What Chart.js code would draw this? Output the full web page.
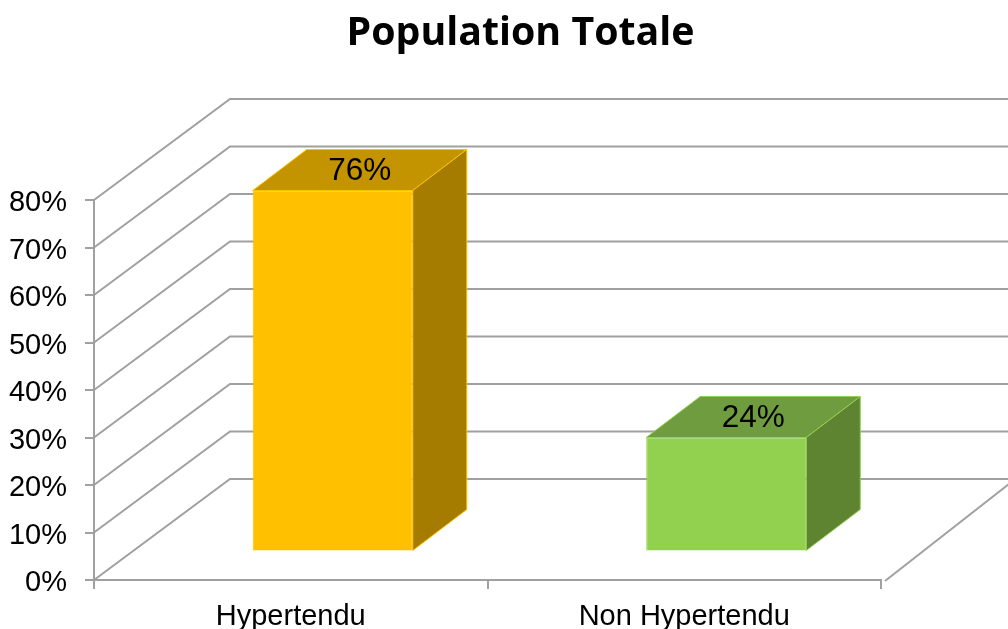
<!DOCTYPE html>
<html>
<head>
<meta charset="utf-8">
<style>html,body{margin:0;padding:0;background:#fff}canvas{display:block}</style>
<script src="https://cdn.jsdelivr.net/npm/chart.js@4"></script>
</head>
<body>
<canvas id="c" width="1008" height="629"></canvas>
<script>
const categories = ['Hypertendu', 'Non Hypertendu'];
const values = [76, 24];
const titleText = 'Population Totale';

const frontColors = ['#FFC000', '#92D050'];
const topColors = ['#C49400', '#6F9C3E'];
const sideColors = ['#A57C00', '#5E8432'];

const GRID = '#a0a0a0';
const WALL = {dx: 136, dy: -101};
const FLOOR_RIGHT = {dx: 129, dy: -101};
const BAR_SHIFT = {dx: 42, dy: -28.5};
const BAR_DEPTH = {dx: 54, dy: -41};

const walls3d = {
  id: 'walls3d',
  beforeDraw(chart) {
    const {ctx} = chart;
    ctx.save();
    ctx.fillStyle = '#000';
    ctx.font = 'bold 39.3px "Open Sans"';
    ctx.textAlign = 'center';
    ctx.textBaseline = 'alphabetic';
    ctx.fillText(titleText, 520.5, 45);
    ctx.restore();
  },
  beforeDatasetsDraw(chart) {
    const {ctx, scales: {y}, chartArea: a} = chart;
    ctx.save();
    ctx.strokeStyle = GRID;
    ctx.lineWidth = 2;
    y.ticks.forEach(t => {
      const py = y.getPixelForValue(t.value);
      ctx.beginPath();
      ctx.moveTo(a.left, py);
      ctx.lineTo(a.left + WALL.dx, py + WALL.dy);
      ctx.lineTo(chart.width, py + WALL.dy);
      ctx.stroke();
    });
    const by = y.getPixelForValue(0);
    ctx.beginPath();
    ctx.moveTo(a.right + 4, by + 1);
    ctx.lineTo(a.right + 4 + FLOOR_RIGHT.dx, by + 1 + FLOOR_RIGHT.dy);
    ctx.stroke();
    ctx.restore();
  },
  beforeDatasetDraw(chart, args) {
    const {ctx} = chart;
    ctx.save();
    ctx.translate(BAR_SHIFT.dx, BAR_SHIFT.dy);
    args.meta.data.forEach((el, i) => {
      const p = el.getProps(['x', 'y', 'base', 'width'], true);
      const l = p.x - p.width / 2, r = p.x + p.width / 2;
      ctx.lineWidth = 1;
      ctx.strokeStyle = frontColors[i];
      ctx.fillStyle = topColors[i];
      ctx.beginPath();
      ctx.moveTo(l, p.y);
      ctx.lineTo(l + BAR_DEPTH.dx, p.y + BAR_DEPTH.dy);
      ctx.lineTo(r + BAR_DEPTH.dx, p.y + BAR_DEPTH.dy);
      ctx.lineTo(r, p.y);
      ctx.closePath();
      ctx.fill(); ctx.stroke();
      ctx.fillStyle = sideColors[i];
      ctx.beginPath();
      ctx.moveTo(r, p.y);
      ctx.lineTo(r + BAR_DEPTH.dx, p.y + BAR_DEPTH.dy);
      ctx.lineTo(r + BAR_DEPTH.dx, p.base + BAR_DEPTH.dy);
      ctx.lineTo(r, p.base);
      ctx.closePath();
      ctx.fill(); ctx.stroke();
    });
  },
  afterDatasetDraw(chart) {
    chart.ctx.restore();
  },
  afterDatasetsDraw(chart) {
    const {ctx} = chart;
    const meta = chart.getDatasetMeta(0);
    ctx.save();
    ctx.fillStyle = '#000';
    ctx.font = '31.5px "Liberation Sans"';
    ctx.textAlign = 'center';
    ctx.textBaseline = 'middle';
    meta.data.forEach((el, i) => {
      ctx.fillText(values[i] + '%',
        el.x + BAR_SHIFT.dx + BAR_DEPTH.dx / 2,
        el.y + BAR_SHIFT.dy + BAR_DEPTH.dy / 2 + 1);
    });
    ctx.restore();
  }
};

new Chart(document.getElementById('c'), {
  type: 'bar',
  data: {
    labels: categories,
    datasets: [{
      data: values,
      backgroundColor: frontColors,
      borderColor: frontColors,
      borderWidth: 1,
      barPercentage: 0.5084,
      categoryPercentage: 0.8
    }]
  },
  plugins: [walls3d],
  options: {
    responsive: false,
    animation: false,
    layout: {padding: {top: 200, right: 127, bottom: 0, left: 0}},
    plugins: {
      legend: {display: false},
      tooltip: {enabled: false},
      title: {display: false}
    },
    scales: {
      x: {
        type: 'category',
        afterFit(s) { s.height = 49; },
        grid: {offset: true, drawOnChartArea: false, color: GRID, lineWidth: 2, tickLength: 9, tickColor: GRID},
        border: {color: GRID, width: 2},
        ticks: {color: '#000', font: {family: 'Liberation Sans', size: 29}, padding: 11, maxRotation: 0, autoSkip: false}
      },
      y: {
        min: 0,
        max: 80,
        afterFit(s) { s.width = 94; },
        grid: {drawOnChartArea: false, color: GRID, lineWidth: 2, tickLength: 9, tickColor: GRID},
        border: {color: GRID, width: 2},
        ticks: {stepSize: 10, color: '#000', font: {family: 'Liberation Sans', size: 29}, padding: 18, labelOffset: 3, callback: v => v + '%'}
      }
    }
  }
});
</script>
</body>
</html>
